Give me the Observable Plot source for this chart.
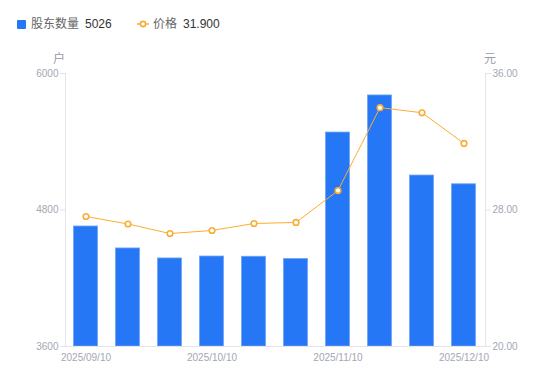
<!DOCTYPE html>
<html>
<head>
<meta charset="utf-8">
<script src="https://cdn.jsdelivr.net/npm/d3@7"></script>
<script src="https://cdn.jsdelivr.net/npm/@observablehq/plot@0.6"></script>
<style>
  html, body { margin: 0; padding: 0; background: #fff; }
  body { width: 550px; height: 381px; position: relative; overflow: hidden;
         font-family: "Liberation Sans", Arial, "Noto Sans CJK SC", sans-serif; }
  #legend { height: 45px; position: relative; font-size: 12px; }
  .lg { position: absolute; top: 16px; line-height: 16px; white-space: nowrap; }
  .lab { color: #666; }
  .val { color: #333; margin-left: 6px; }
  .unit { position: absolute; top: 49px; font-size: 12px; color: #9a9aa8;
          font-family: "Noto Sans CJK SC", sans-serif; }
  #chart svg { display: block; }
</style>
</head>
<body>
<div id="legend"></div>
<div class="unit" style="left:53px">户</div>
<div class="unit" style="left:484px">元</div>
<div id="chart"></div>
<script>
const dates = ["2025/09/10","2025/09/20","2025/09/30","2025/10/10","2025/10/20","2025/10/31","2025/11/10","2025/11/20","2025/11/30","2025/12/10"];
const holders = [4655, 4462, 4374, 4391, 4389, 4369, 5481, 5807, 5103, 5026];
const prices = [27.62, 27.18, 26.62, 26.80, 27.21, 27.27, 29.14, 34.00, 33.70, 31.90];
const leftTicks = [3600, 4800, 6000];
const rightTicks = [20, 28, 36];
const xTicks = ["2025/09/10","2025/10/10","2025/11/10","2025/12/10"];
const seriesNames = ["股东数量", "价格"];

const blue = "#2677f5";
const orange = "#fbad33";
const tickColor = "#a3a6b4";
const axisColor = "#e3e3e8";

// map price onto the holders scale
const yMin = 3600, yMax = 6000, pMin = 20, pMax = 36;
const p2y = p => yMin + (p - pMin) * (yMax - yMin) / (pMax - pMin);
const y2p = y => pMin + (y - yMin) * (pMax - pMin) / (yMax - yMin);

const data = dates.map((d, i) => ({date: d, holders: holders[i], price: prices[i]}));

// legend
const legend = document.getElementById("legend");
legend.innerHTML = `
  <div class="lg" style="left:17px"><span style="display:inline-block;width:9px;height:9px;background:${blue};border-radius:1px;vertical-align:-1px;margin-right:5px"></span><span class="lab">${seriesNames[0]}</span><span class="val">${holders[holders.length-1]}</span></div>
  <div class="lg" style="left:137px"><svg width="12" height="10" style="vertical-align:-1px;margin-right:4px"><line x1="0" y1="5" x2="12" y2="5" stroke="${orange}" stroke-width="1.5"/><circle cx="6" cy="5" r="2.6" fill="#fff" stroke="${orange}" stroke-width="1.6"/></svg><span class="lab">${seriesNames[1]}</span><span class="val">${prices[prices.length-1].toFixed(3)}</span></div>
`;

const plot = Plot.plot({
  width: 550,
  height: 336,
  marginTop: 28,
  marginBottom: 35,
  marginLeft: 65,
  marginRight: 65,
  style: {fontFamily: "'Liberation Sans', Arial, sans-serif", fontSize: "10px", background: "#fff"},
  x: {type: "band", domain: dates, paddingInner: 0.4, paddingOuter: 0.2, label: null},
  y: {domain: [yMin, yMax], label: null},
  marks: [
    Plot.barY(data, {x: "date", y1: () => yMin, y2: "holders", fill: blue, stroke: "#6ea3f7", strokeWidth: 0.8, insetLeft: 0.5, insetRight: 0.5}),
    Plot.frame({anchor: "left", stroke: axisColor}),
    Plot.frame({anchor: "right", stroke: axisColor}),
    Plot.frame({anchor: "bottom", stroke: axisColor}),
    Plot.axisY({anchor: "left", ticks: leftTicks, tickSize: 5, tickPadding: 2, stroke: axisColor, color: tickColor, tickFormat: d3.format("d"), label: null}),
    Plot.axisY({anchor: "right", ticks: rightTicks.map(p2y), tickSize: 5, tickPadding: 2, stroke: axisColor, color: tickColor, tickFormat: v => y2p(v).toFixed(2), label: null}),
    Plot.axisX({ticks: xTicks, tickSize: 0, tickPadding: 7, color: tickColor, label: null}),
    Plot.line(data, {x: "date", y: d => p2y(d.price), stroke: orange, strokeWidth: 1}),
    Plot.dot(data, {x: "date", y: d => p2y(d.price), r: 2.8, fill: "#fff", stroke: orange, strokeWidth: 1.6})
  ]
});
document.getElementById("chart").appendChild(plot);
</script>
</body>
</html>
